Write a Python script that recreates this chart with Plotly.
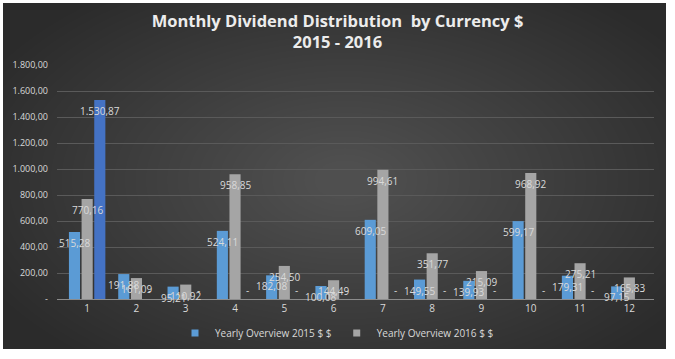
import plotly.graph_objects as go

months = ["1", "2", "3", "4", "5", "6", "7", "8", "9", "10", "11", "12"]
y2015 = [515.28, 191.88, 95.21, 524.11, 182.08, 100.08, 609.05, 149.55, 139.93, 599.17, 179.31, 97.15]
y2016 = [770.16, 161.09, 110.92, 958.85, 254.50, 144.49, 994.61, 351.77, 215.09, 968.92, 275.21, 165.83]
y_extra = [1530.87, 0, 0, 0, 0, 0, 0, 0, 0, 0, 0, 0]
ytick_vals = [0, 200, 400, 600, 800, 1000, 1200, 1400, 1600, 1800]
names = ["Yearly Overview 2015 $ $", "Yearly Overview 2016 $ $", "Extra"]
colors = ["#5B9BD5", "#A5A5A5", "#4472C4"]
series = [y2015, y2016, y_extra]

def eu(v):
    if v == 0:
        return "-"
    s = f"{v:,.2f}"
    return s.replace(",", "X").replace(".", ",").replace("X", ".")

W, H = 675, 359
ML, MR, MT, MB = 57, 21, 65, 60
PW, PH = W - ML - MR, H - MT - MB
BARGAP, GROUPGAP = 0.23, 0.12

def px(x):
    return (x - ML) / PW

def py(y):
    return (H - MB - y) / PH

fig = go.Figure()
for name, vals, col in zip(names, series, colors):
    fig.add_trace(go.Bar(name=name, x=months, y=vals, marker=dict(color=col, line=dict(width=0)),
                         showlegend=False, hoverinfo="x+y"))
for name, col in zip(names[:2], colors[:2]):
    fig.add_trace(go.Scatter(name=name, x=[None], y=[None], mode="markers",
                             marker=dict(symbol="square", size=7, color=col)))

# data labels
slot = (1 - BARGAP) / len(series)
annotations = []
for k, vals in enumerate(series):
    off = (k - (len(series) - 1) / 2) * slot
    for i, v in enumerate(vals):
        annotations.append(dict(x=i + off, y=v, xref="x", yref="y", text=eu(v), showarrow=False,
                                yshift=(-11 if v > 0 else 9),
                                font=dict(family="Open Sans", size=10, color="#d9d9d9")))

shapes = [dict(type="rect", xref="paper", yref="paper", x0=px(3), x1=px(666), y0=py(349), y1=py(3),
               fillcolor="#2b2b2b", line=dict(width=0), layer="below")]
N = 36
cx, cy = 345, 180
for i in range(N):
    f = 1 - i / N
    rx, ry = 20 + 380 * f, 14 + 215 * f
    shapes.append(dict(type="circle", xref="paper", yref="paper",
                       x0=px(cx - rx), x1=px(cx + rx), y0=py(cy + ry), y1=py(cy - ry),
                       fillcolor="rgba(255,255,255,0.006)", line=dict(width=0), layer="below"))

fig.update_layout(
    width=W, height=H, margin=dict(l=ML, r=MR, t=MT, b=MB, autoexpand=False),
    paper_bgcolor="white", plot_bgcolor="rgba(0,0,0,0)",
    barmode="group", bargap=BARGAP, bargroupgap=GROUPGAP,
    shapes=shapes, annotations=annotations,
    title=dict(text="<b>Monthly Dividend Distribution  by Currency $<br>2015 - 2016</b>",
               x=0.5, xanchor="center", y=1 - 27 / H, yanchor="middle",
               font=dict(family="Open Sans", size=16.5, color="#ececec")),
    legend=dict(orientation="h", x=px(337), xanchor="center", y=py(333), yanchor="middle",
                font=dict(family="Open Sans", size=10, color="#d9d9d9"),
                bgcolor="rgba(0,0,0,0)", itemwidth=30, traceorder="normal"),
    font=dict(family="Open Sans", size=10, color="#d9d9d9"),
)
fig.update_xaxes(type="category", showgrid=False, showline=True, linecolor="#8c8c8c", linewidth=1,
                 ticks="", tickfont=dict(size=10, color="#d9d9d9"), automargin=False)
fig.update_yaxes(range=[0, 1800], tickvals=ytick_vals, ticktext=[eu(v) for v in ytick_vals],
                 showgrid=True, gridcolor="#5a5a5a", gridwidth=1, zeroline=False,
                 tickfont=dict(size=9, color="#d9d9d9"), ticks="", ticklabelstandoff=8,
                 automargin=False)

fig.write_html("out.html", config={"displayModeBar": False},
               post_script="document.body.style.margin='0';document.body.style.overflow='hidden';")
